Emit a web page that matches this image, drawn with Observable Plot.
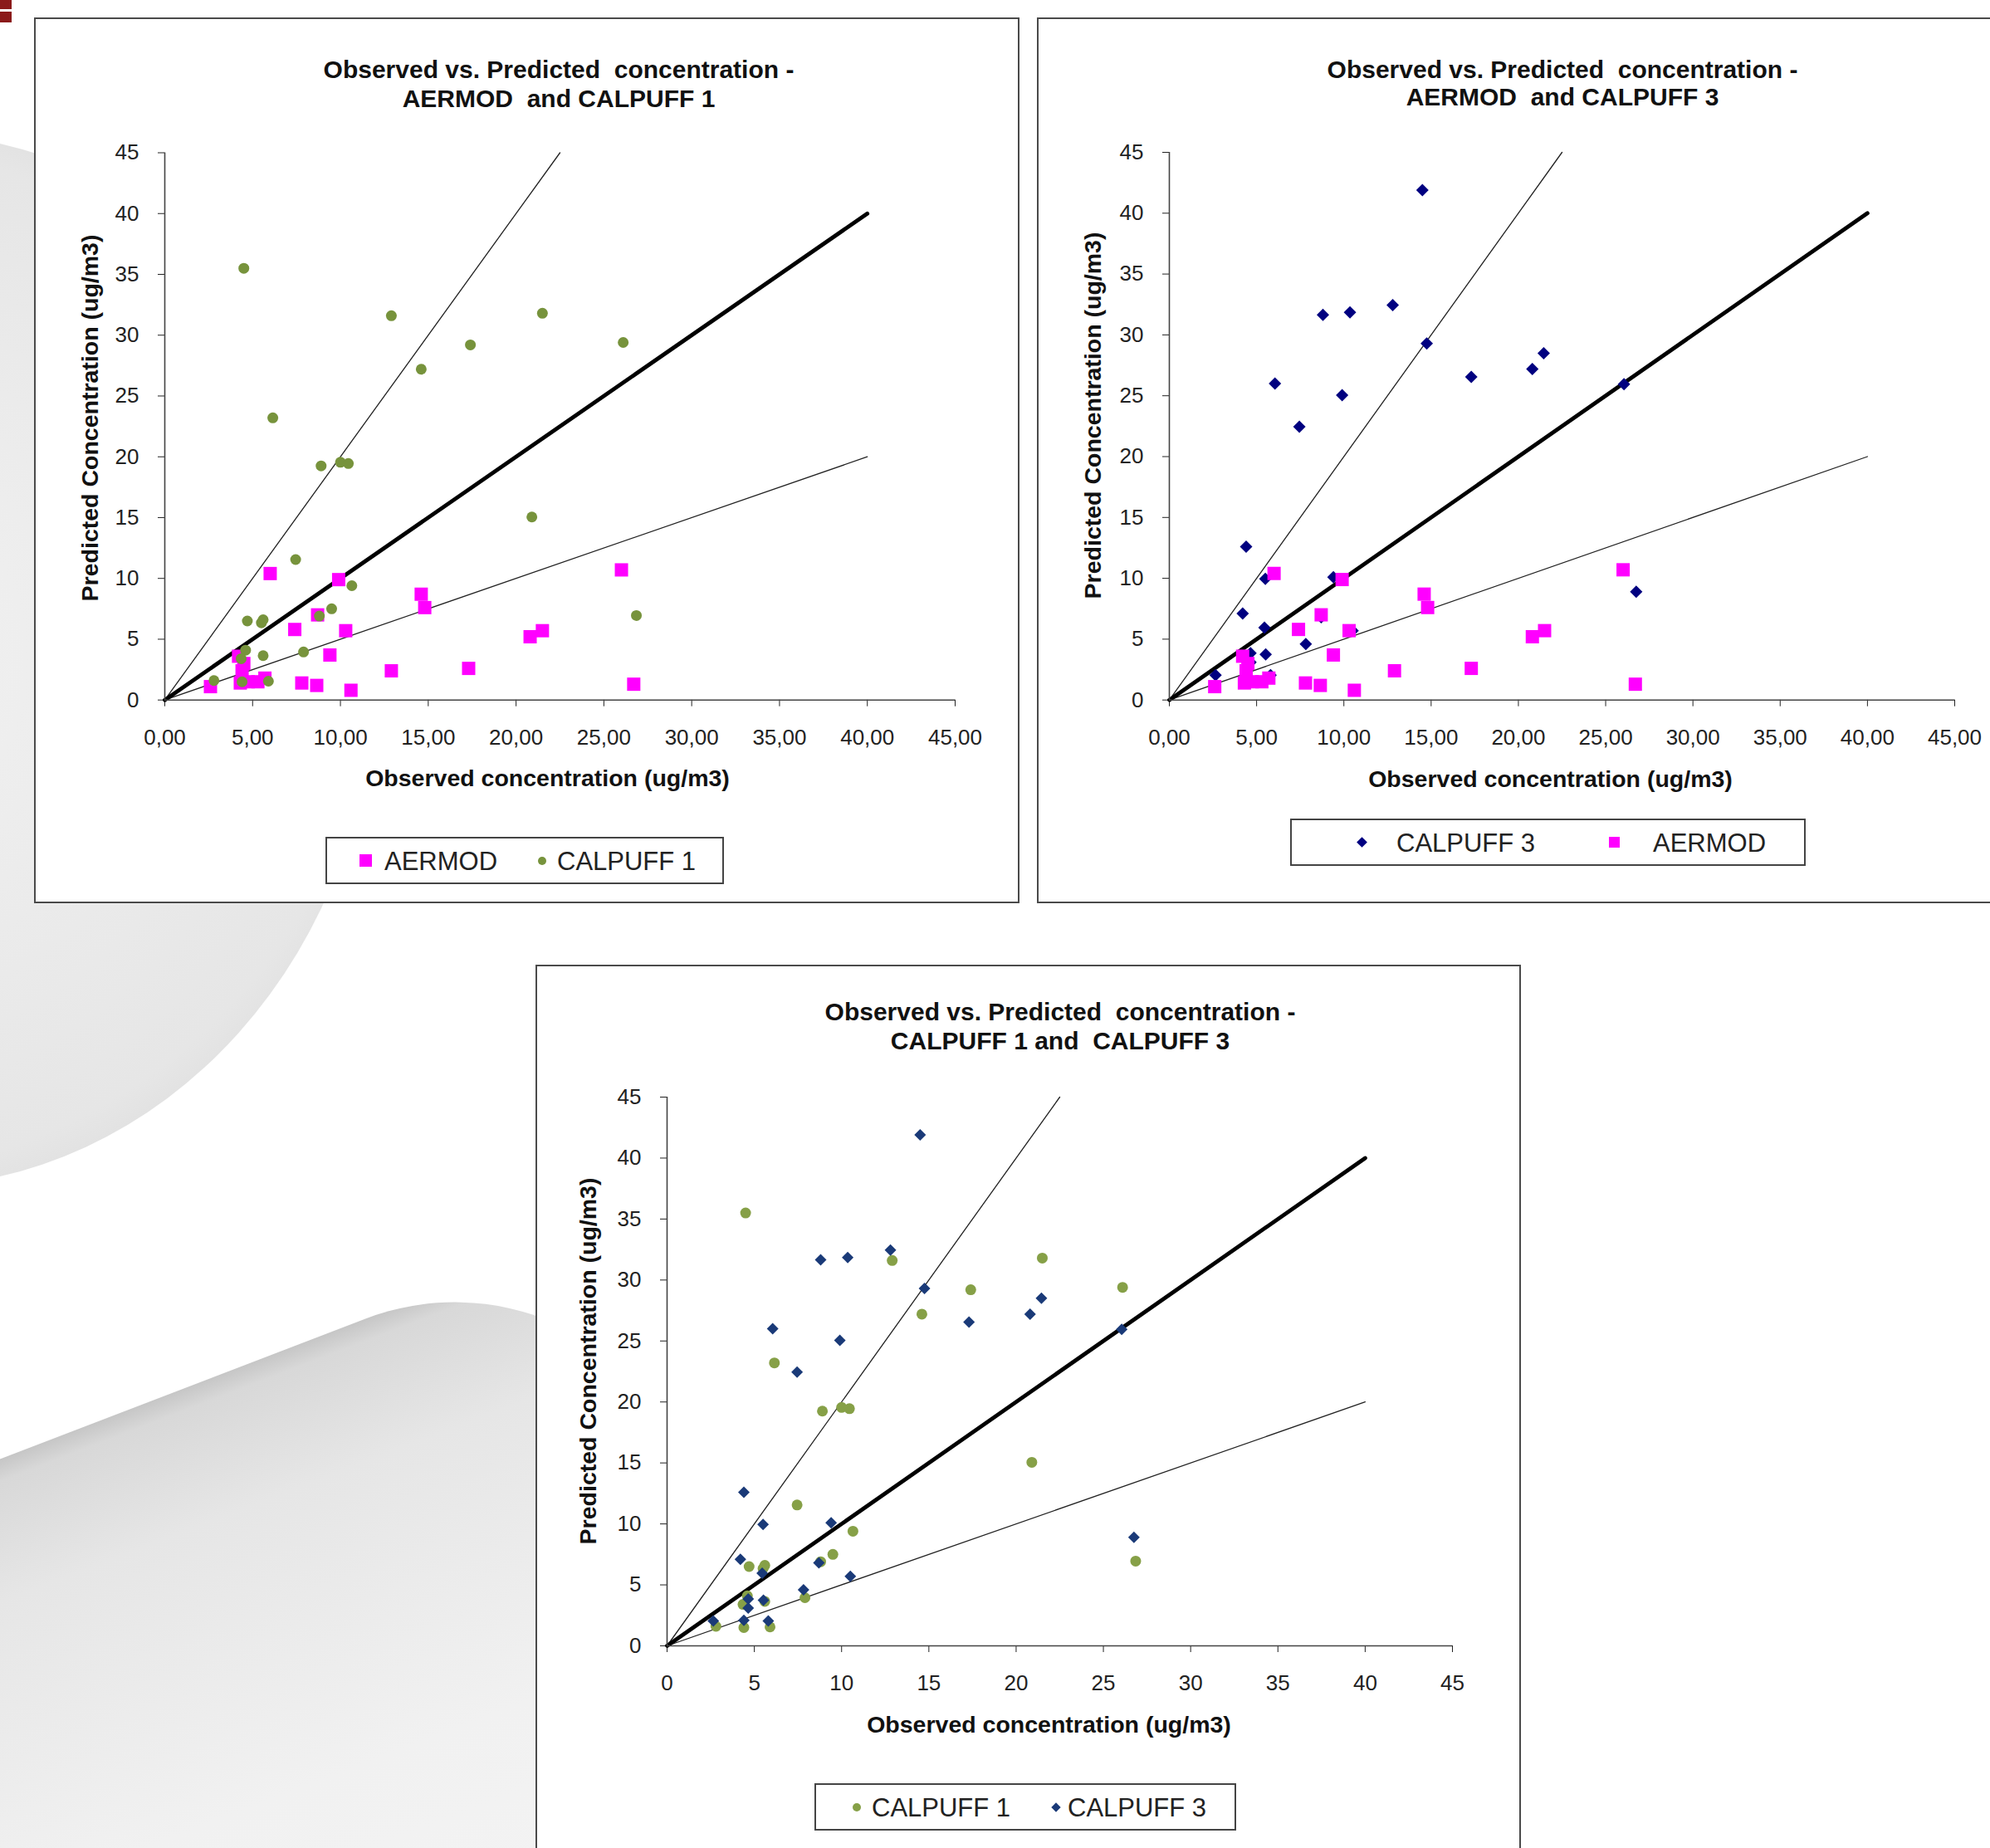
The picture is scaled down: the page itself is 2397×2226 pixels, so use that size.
<!DOCTYPE html>
<html>
<head>
<meta charset="utf-8">
<script src="https://cdn.jsdelivr.net/npm/d3@7"></script>
<script src="https://cdn.jsdelivr.net/npm/@observablehq/plot@0.6"></script>
<style>
html, body { margin: 0; padding: 0; }
body { width: 2397px; height: 2226px; position: relative; overflow: hidden; background: #fff;
       font-family: 'Liberation Sans', Arial, sans-serif; }
.deco { position: absolute; }
.panel { position: absolute; width: 1187px; height: 1067px; background: #fff;
         outline: 2px solid #4a4a4a; outline-offset: -2px; }
.panel svg { position: absolute; left: 0; top: 0; }
.title { position: absolute; text-align: center; font-weight: bold; font-size: 30px; color: #111; white-space: pre; }
.legend { position: absolute; border: 2px solid #444; box-sizing: border-box; background: #fff; }
.legend span { position: absolute; }
.ltext { font-size: 31px; color: #222; line-height: 1; top: 50%; transform: translateY(-50%); }
</style>
</head>
<body>
<div class="deco" style="left:-682px;top:160px;width:1136px;height:1270px;border-radius:50%;
  background: radial-gradient(ellipse at 40% 50%, #f3f3f3 0%, #e6e6e6 70%, #cdcdcd 95%, #d8d8d8 100%);"></div>
<div class="deco" style="left:-400px;top:1911px;width:1200px;height:1100px;transform-origin:0 0;transform:rotate(-21deg);
  border-top-right-radius:300px;
  background: linear-gradient(to bottom, #c6c6c6 0px, #d8d8d8 25px, #e6e6e6 160px, #f1f1f1 500px, #f7f7f7 100%);"></div>
<div class="deco" style="left:0;top:0;width:14px;height:27px;background:#8b1a1a;"></div>
<div class="deco" style="left:0;top:11px;width:14px;height:3px;background:#fff;"></div>

<script>
// ---------------- data (observed, predicted) in ug/m3 ----------------
const aermodObs  = [2.6, 4.2, 4.5, 4.4, 4.3, 4.75, 5.3, 5.7, 6.0, 7.4, 7.8, 8.7, 8.65, 9.4, 9.9, 10.3, 10.6, 12.9, 14.6, 14.8, 17.3, 20.8, 21.5, 26.0, 26.7];
const aermodPred = [1.1, 3.6, 3.0, 2.4, 1.4, 1.5, 1.5, 1.8, 10.4, 5.8, 1.4, 7.0, 1.2, 3.7, 9.9, 5.7, 0.8, 2.4, 8.7, 7.6, 2.6, 5.2, 5.7, 10.7, 1.3];

const calpuff1Obs  = [2.8, 4.5, 4.4, 4.6, 4.35, 4.7, 5.5, 5.6, 5.6, 5.9, 6.15, 7.45, 7.9, 8.8, 8.9, 9.5, 10.0, 10.45, 10.65, 12.9, 14.6, 17.4, 20.9, 21.5, 26.1, 26.85];
const calpuff1Pred = [1.6, 35.5, 1.5, 4.1, 3.4, 6.5, 6.35, 6.6, 3.65, 1.55, 23.2, 11.55, 3.95, 6.9, 19.25, 7.5, 19.55, 19.45, 9.4, 31.6, 27.2, 29.2, 15.05, 31.8, 29.4, 6.95];

const calpuff3Obs  = [2.65, 4.2, 4.4, 4.4, 4.65, 4.65, 5.45, 5.5, 5.52, 5.8, 6.05, 7.45, 7.82, 8.7, 8.8, 9.4, 9.9, 10.35, 10.5, 12.8, 14.5, 14.75, 17.3, 20.8, 21.45, 26.05, 26.75];
const calpuff3Pred = [2.05, 7.1, 12.6, 2.1, 3.85, 3.1, 5.95, 9.95, 3.75, 2.05, 26.0, 22.45, 4.6, 6.8, 31.65, 10.1, 25.05, 31.85, 5.7, 32.45, 41.9, 29.3, 26.55, 27.2, 28.5, 25.95, 8.9];

// reference lines: 1:1, factor 2 over, factor 2 under
const lineOneObs   = [0, 40];
const lineOnePred  = [0, 40];
const lineOverObs  = [0, 22.5];
const lineOverPred = [0, 45];
const lineUnderObs  = [0, 40];
const lineUnderPred = [0, 20];

const tickValues = [0, 5, 10, 15, 20, 25, 30, 35, 40, 45];
const xTickLabelsComma = ["0,00", "5,00", "10,00", "15,00", "20,00", "25,00", "30,00", "35,00", "40,00", "45,00"];
const xTickLabelsInt = ["0", "5", "10", "15", "20", "25", "30", "35", "40", "45"];
const yTickLabels = ["0", "5", "10", "15", "20", "25", "30", "35", "40", "45"];

const xTitle = "Observed concentration (ug/m3)";
const yTitle = "Predicted Concentration (ug/m3)";

// ---------------- helpers ----------------
const toRows = (xs, ys) => xs.map((x, i) => ({obs: x, pred: ys[i]}));
const squareSym = {draw(ctx, size) { const h = Math.sqrt(size / Math.PI); ctx.moveTo(-h, -h); ctx.lineTo(h, -h); ctx.lineTo(h, h); ctx.lineTo(-h, h); ctx.closePath(); }};
const diamondSym = {draw(ctx, size) { const h = Math.sqrt(size / Math.PI); ctx.moveTo(0, -h); ctx.lineTo(h, 0); ctx.lineTo(0, h); ctx.lineTo(-h, 0); ctx.closePath(); }};

const MAGENTA = "#ff00ff", GREEN1 = "#77933c", GREEN3 = "#86a047", NAVY = "#000080", BLUE3 = "#1a3a78";

function makePanel(cfg) {
  const panel = document.createElement("div");
  panel.className = "panel";
  panel.style.left = cfg.left + "px";
  panel.style.top = cfg.top + "px";
  document.body.appendChild(panel);

  const H = 960;
  const W = 1187;
  const marks = [
    Plot.line(toRows(lineOverObs, lineOverPred), {x: "obs", y: "pred", stroke: "#222", strokeWidth: 1.3}),
    Plot.line(toRows(lineUnderObs, lineUnderPred), {x: "obs", y: "pred", stroke: "#222", strokeWidth: 1.3}),
    Plot.line(toRows(lineOneObs, lineOnePred), {x: "obs", y: "pred", stroke: "#000", strokeWidth: 4.8}),
    Plot.ruleX([0], {stroke: "#444", strokeWidth: 1.6}),
    Plot.ruleY([0], {stroke: "#444", strokeWidth: 1.6}),
  ];
  for (const s of cfg.series) {
    marks.push(Plot.dot(toRows(s.obs, s.pred), {x: "obs", y: "pred", symbol: s.symbol, r: s.r, fill: s.fill, stroke: "none"}));
  }
  marks.push(Plot.text([xTitle], {text: d => d, frameAnchor: "bottom", textAnchor: "middle", lineAnchor: "middle",
    dy: cfg.xTitleY - cfg.yb, dx: cfg.xTitleX - (cfg.ml + cfg.xr) / 2,
    fontWeight: "bold", fontSize: 28.5, fill: "#111"}));
  marks.push(Plot.text([yTitle], {text: d => d, frameAnchor: "left", textAnchor: "middle", lineAnchor: "middle",
    dx: cfg.yTitleX - cfg.ml, dy: cfg.yTitleY - (cfg.yt + cfg.yb) / 2,
    rotate: -90, fontWeight: "bold", fontSize: 28.5, fill: "#111"}));

  const chart = Plot.plot({
    width: W, height: H,
    marginLeft: cfg.ml, marginRight: W - cfg.xr, marginTop: cfg.yt, marginBottom: H - cfg.yb,
    style: {fontFamily: "'Liberation Sans', Arial, sans-serif", fontSize: "26px", color: "#222", background: "transparent", overflow: "visible"},
    x: {domain: [0, 45], ticks: tickValues, tickFormat: d => cfg.xLabels[tickValues.indexOf(d)], tickSize: 8, tickPadding: 27, label: null},
    y: {domain: [0, 45], ticks: tickValues, tickFormat: d => yTickLabels[tickValues.indexOf(d)], tickSize: 8, tickPadding: 23, label: null},
    marks
  });
  panel.appendChild(chart);

  const title = document.createElement("div");
  title.className = "title";
  title.style.left = "0px";
  title.style.width = (2 * cfg.titleX) + "px";
  title.style.top = cfg.titleTop + "px";
  title.style.lineHeight = cfg.titleLH + "px";
  title.textContent = cfg.titleLines.join("\n");
  panel.appendChild(title);

  const lg = document.createElement("div");
  lg.className = "legend";
  lg.style.left = cfg.legend.x + "px";
  lg.style.top = cfg.legend.y + "px";
  lg.style.width = cfg.legend.w + "px";
  lg.style.height = cfg.legend.h + "px";
  for (const it of cfg.legend.items) {
    const m = document.createElement("span");
    const sz = it.size;
    m.style.width = sz + "px"; m.style.height = sz + "px";
    m.style.background = it.color;
    m.style.left = (it.mx - cfg.legend.x - sz / 2) + "px";
    m.style.top = (cfg.legend.h / 2 - 2 - sz / 2) + "px";
    if (it.shape === "circle") m.style.borderRadius = "50%";
    if (it.shape === "diamond") m.style.transform = "rotate(45deg)";
    lg.appendChild(m);
    const t = document.createElement("span");
    t.className = "ltext";
    t.style.left = (it.tx - cfg.legend.x) + "px";
    t.textContent = it.label;
    lg.appendChild(t);
  }
  panel.appendChild(lg);
}

makePanel({
  left: 41, top: 21, ml: 157, xr: 1109, yt: 162.5, yb: 821.7,
  xLabels: xTickLabelsComma,
  series: [
    {obs: aermodObs, pred: aermodPred, symbol: squareSym, r: 8, fill: MAGENTA},
    {obs: calpuff1Obs, pred: calpuff1Pred, symbol: "circle", r: 6.5, fill: GREEN1}
  ],
  titleLines: ["Observed vs. Predicted  concentration -", "AERMOD  and CALPUFF 1"], titleX: 632, titleTop: 44.5, titleLH: 35,
  xTitleX: 618, xTitleY: 916, yTitleX: 67, yTitleY: 482,
  legend: {x: 351, y: 987, w: 480, h: 57, items: [
    {shape: "square", color: MAGENTA, size: 15, mx: 397, tx: 420, label: "AERMOD"},
    {shape: "circle", color: GREEN1, size: 10, mx: 610, tx: 628, label: "CALPUFF 1"}
  ]}
});

makePanel({
  left: 1249, top: 21, ml: 159, xr: 1105, yt: 162, yb: 821.7,
  xLabels: xTickLabelsComma,
  series: [
    {obs: calpuff3Obs, pred: calpuff3Pred, symbol: diamondSym, r: 7.5, fill: NAVY},
    {obs: aermodObs, pred: aermodPred, symbol: squareSym, r: 8, fill: MAGENTA}
  ],
  titleLines: ["Observed vs. Predicted  concentration -", "AERMOD  and CALPUFF 3"], titleX: 633, titleTop: 45.5, titleLH: 33,
  xTitleX: 618, xTitleY: 917, yTitleX: 67, yTitleY: 479,
  legend: {x: 305, y: 965, w: 621, h: 57, items: [
    {shape: "diamond", color: NAVY, size: 9, mx: 389, tx: 431, label: "CALPUFF 3"},
    {shape: "square", color: MAGENTA, size: 13, mx: 693, tx: 740, label: "AERMOD"}
  ]}
});

makePanel({
  left: 645, top: 1162, ml: 158, xr: 1104, yt: 159, yb: 820,
  xLabels: xTickLabelsInt,
  series: [
    {obs: calpuff1Obs, pred: calpuff1Pred, symbol: "circle", r: 6.5, fill: GREEN3},
    {obs: calpuff3Obs, pred: calpuff3Pred, symbol: diamondSym, r: 7, fill: BLUE3}
  ],
  titleLines: ["Observed vs. Predicted  concentration -", "CALPUFF 1 and  CALPUFF 3"], titleX: 632, titleTop: 38.5, titleLH: 35.5,
  xTitleX: 618, xTitleY: 915, yTitleX: 63, yTitleY: 477,
  legend: {x: 336, y: 986, w: 508, h: 57, items: [
    {shape: "circle", color: GREEN3, size: 10, mx: 384.5, tx: 403, label: "CALPUFF 1"},
    {shape: "diamond", color: BLUE3, size: 8, mx: 625, tx: 639, label: "CALPUFF 3"}
  ]}
});
</script>
</body>
</html>
